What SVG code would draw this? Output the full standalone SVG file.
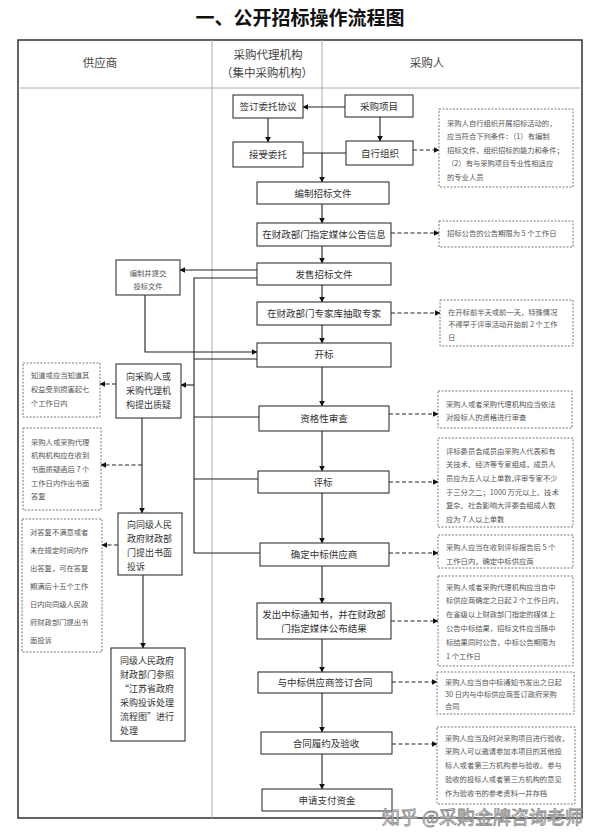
<svg xmlns="http://www.w3.org/2000/svg" width="600" height="839" viewBox="0 0 600 839">
<defs>
<marker id="ah" viewBox="0 0 10 10" refX="9" refY="5" markerWidth="6" markerHeight="6" markerUnits="userSpaceOnUse" orient="auto">
<path d="M0,0 L10,5 L0,10 z" fill="#111"/>
</marker>
<style>
.t{font-family:"Noto Sans CJK SC","Noto Sans",sans-serif;fill:#333}
.title{font-family:"Noto Sans CJK SC",sans-serif;font-size:19px;font-weight:bold;fill:#111}
.hd{font-size:11.5px;fill:#444}
.bx{font-size:9.5px}
.lb{font-size:9px}
.nt{font-size:7.3px;fill:#555}
.box{fill:#fff;stroke:#333;stroke-width:1.1}
.note{fill:#fff;stroke:#777;stroke-width:1;stroke-dasharray:2,1.5}
.ln{fill:none;stroke:#222;stroke-width:1.1}
.ar{fill:none;stroke:#222;stroke-width:1.1;marker-end:url(#ah)}
.da{fill:none;stroke:#222;stroke-width:1.1;stroke-dasharray:4,2.5;marker-end:url(#ah)}
.grid{fill:none;stroke:#9aa7b0;stroke-width:0.9}
</style>
</defs>
<rect width="600" height="839" fill="#fff"/>
<text class="title" x="300" y="25" text-anchor="middle">一、公开招标操作流程图</text>

<g id="table">
<rect x="18" y="40" width="564" height="778" fill="none" stroke="#222" stroke-width="1.4"/>
<line class="grid" x1="18" y1="88" x2="582" y2="88"/>
<line class="grid" x1="212" y1="40" x2="212" y2="818"/>
<line class="grid" x1="322" y1="40" x2="322" y2="153"/>
<text class="t hd" x="100" y="67" text-anchor="middle">供应商</text>
<text class="t hd" x="268" y="59" text-anchor="middle">采购代理机构</text>
<text class="t hd" x="267" y="77" text-anchor="middle">（集中采购机构）</text>
<text class="t hd" x="427" y="67" text-anchor="middle">采购人</text>
</g>

<g id="connectors">
<line class="ar" x1="345" y1="107" x2="303" y2="107"/>
<line class="ar" x1="268" y1="118" x2="268" y2="142"/>
<line class="ar" x1="380" y1="117" x2="380" y2="141"/>
<polyline class="ln" points="303,153 346,153"/>
<line class="ar" x1="322" y1="153" x2="322" y2="182"/>
<line class="ar" x1="322" y1="204" x2="322" y2="223"/>
<line class="ar" x1="322" y1="246" x2="322" y2="263"/>
<line class="ar" x1="322" y1="285" x2="322" y2="302"/>
<line class="ar" x1="322" y1="325" x2="322" y2="343"/>
<line class="ar" x1="322" y1="367" x2="322" y2="406"/>
<line class="ar" x1="322" y1="431" x2="322" y2="471"/>
<line class="ar" x1="322" y1="493" x2="322" y2="543"/>
<line class="ar" x1="322" y1="566" x2="322" y2="603"/>
<line class="ar" x1="322" y1="639" x2="322" y2="672"/>
<line class="ar" x1="322" y1="693" x2="322" y2="732"/>
<line class="ar" x1="322" y1="754" x2="322" y2="789"/>
<line class="ar" x1="257" y1="270" x2="180" y2="270"/>
<polyline class="ar" points="145,295 145,352 257,352"/>
<polyline class="ln" points="257,278 194,278 194,553 260,553"/>
<line class="ln" x1="194" y1="359" x2="257" y2="359"/>
<line class="ln" x1="194" y1="417" x2="259" y2="417"/>
<line class="ln" x1="194" y1="479" x2="258" y2="479"/>
<line class="ar" x1="194" y1="385" x2="181" y2="385"/>
<line class="ar" x1="142" y1="418" x2="142" y2="513"/>
<line class="ar" x1="143" y1="575" x2="143" y2="648"/>
<line class="da" x1="116" y1="384" x2="100" y2="384"/>
<line class="da" x1="142" y1="465" x2="101" y2="465"/>
<line class="da" x1="118" y1="545" x2="102" y2="545"/>
<line class="da" x1="413" y1="150" x2="439" y2="150"/>
<line class="da" x1="391" y1="233" x2="439" y2="233"/>
<line class="da" x1="391" y1="313" x2="440" y2="313"/>
<line class="da" x1="389" y1="414" x2="438" y2="414"/>
<line class="da" x1="389" y1="482" x2="438" y2="482"/>
<line class="da" x1="389" y1="553" x2="438" y2="553"/>
<line class="da" x1="391" y1="621" x2="438" y2="621"/>
<line class="da" x1="392" y1="682" x2="437" y2="682"/>
<line class="da" x1="392" y1="744" x2="437" y2="744"/>
</g>

<g id="n-qianding"><rect class="box" x="233" y="95" width="70" height="23"/><text class="t bx" x="268" y="110" text-anchor="middle">签订委托协议</text></g>
<g id="n-xiangmu"><rect class="box" x="345" y="95" width="68" height="22"/><text class="t bx" x="379" y="110" text-anchor="middle">采购项目</text></g>
<g id="n-jieshou"><rect class="box" x="233" y="142" width="70" height="25"/><text class="t bx" x="268" y="158" text-anchor="middle">接受委托</text></g>
<g id="n-zixing"><rect class="box" x="346" y="141" width="67" height="24"/><text class="t bx" x="380" y="157" text-anchor="middle">自行组织</text></g>
<g id="n-bianzhi"><rect class="box" x="257" y="182" width="132" height="22"/><text class="t bx" x="323" y="197" text-anchor="middle">编制招标文件</text></g>
<g id="n-gonggao"><rect class="box" x="257" y="223" width="134" height="23"/><text class="t bx" x="324" y="238" text-anchor="middle">在财政部门指定媒体公告信息</text></g>
<g id="n-fashou"><rect class="box" x="257" y="263" width="134" height="22"/><text class="t bx" x="324" y="278" text-anchor="middle">发售招标文件</text></g>
<g id="n-zhuanjia"><rect class="box" x="257" y="302" width="134" height="23"/><text class="t bx" x="324" y="317" text-anchor="middle">在财政部门专家库抽取专家</text></g>
<g id="n-kaibiao"><rect class="box" x="257" y="343" width="134" height="24"/><text class="t bx" x="324" y="358" text-anchor="middle">开标</text></g>
<g id="n-zige"><rect class="box" x="259" y="406" width="130" height="25"/><text class="t bx" x="324" y="422" text-anchor="middle">资格性审查</text></g>
<g id="n-pingbiao"><rect class="box" x="258" y="471" width="131" height="22"/><text class="t bx" x="323" y="486" text-anchor="middle">评标</text></g>
<g id="n-queding"><rect class="box" x="260" y="543" width="129" height="23"/><text class="t bx" x="324" y="558" text-anchor="middle">确定中标供应商</text></g>
<g id="n-tongzhi"><rect class="box" x="257" y="603" width="134" height="36"/><text class="t bx" x="324" y="618" text-anchor="middle">发出中标通知书，并在财政部</text><text class="t bx" x="324" y="632" text-anchor="middle">门指定媒体公布结果</text></g>
<g id="n-hetong"><rect class="box" x="258" y="672" width="134" height="21"/><text class="t bx" x="325" y="686" text-anchor="middle">与中标供应商签订合同</text></g>
<g id="n-yanshou"><rect class="box" x="261" y="732" width="131" height="22"/><text class="t bx" x="326" y="747" text-anchor="middle">合同履约及验收</text></g>
<g id="n-zhifu"><rect class="box" x="262" y="789" width="130" height="22"/><text class="t bx" x="327" y="804" text-anchor="middle">申请支付资金</text></g>

<g id="n-toubiao"><rect class="box" x="116" y="260" width="64" height="35"/><text class="t nt" x="148" y="276" text-anchor="middle">编制并提交</text><text class="t nt" x="148" y="289" text-anchor="middle">投标文件</text></g>
<g id="n-zhiyi"><rect class="box" x="116" y="364" width="65" height="54"/><text class="t lb" x="126" y="380">向采购人或</text><text class="t lb" x="126" y="394">采购代理机</text><text class="t lb" x="126" y="408">构提出质疑</text></g>
<g id="n-tousu"><rect class="box" x="118" y="513" width="64" height="62"/><text class="t lb" x="127" y="528">向同级人民</text><text class="t lb" x="127" y="542">政府财政部</text><text class="t lb" x="127" y="556">门提出书面</text><text class="t lb" x="127" y="570">投诉</text></g>
<g id="n-chuli"><rect class="box" x="111" y="648" width="74" height="93"/><text class="t lb" x="120" y="664">同级人民政府</text><text class="t lb" x="120" y="678">财政部门参照</text><text class="t lb" x="120" y="692">“江苏省政府</text><text class="t lb" x="120" y="706">采购投诉处理</text><text class="t lb" x="120" y="720">流程图”进行</text><text class="t lb" x="120" y="734">处理</text></g>

<g id="note-l1"><rect class="note" x="23" y="363" width="77" height="54"/><text class="t nt" x="31" y="378">知道或应当知道其</text><text class="t nt" x="31" y="392">权益受到损害起七</text><text class="t nt" x="31" y="406">个工作日内</text></g>
<g id="note-l2"><rect class="note" x="23" y="428" width="78" height="82"/><text class="t nt" x="31" y="445">采购人或采购代理</text><text class="t nt" x="31" y="458">机构机构应在收到</text><text class="t nt" x="31" y="472">书面质疑函后 7 个</text><text class="t nt" x="31" y="486">工作日内作出书面</text><text class="t nt" x="31" y="499">答复</text></g>
<g id="note-l3"><rect class="note" x="22" y="519" width="80" height="133"/><text class="t nt" x="30" y="535">对答复不满意或者</text><text class="t nt" x="30" y="553">未在规定时间内作</text><text class="t nt" x="30" y="571">出答复，可在答复</text><text class="t nt" x="30" y="589">期满后十五个工作</text><text class="t nt" x="30" y="607">日内向同级人民政</text><text class="t nt" x="30" y="625">府财政部门提出书</text><text class="t nt" x="30" y="643">面投诉</text></g>

<g id="note-r1"><rect class="note" x="439" y="109" width="134" height="78"/><text class="t nt" x="447" y="126">采购人自行组织开展招标活动的，</text><text class="t nt" x="447" y="139">应当符合下列条件：（1）有编制</text><text class="t nt" x="447" y="153">招标文件、组织招标的能力和条件；</text><text class="t nt" x="447" y="166">（2）有与采购项目专业性相适应</text><text class="t nt" x="447" y="180">的专业人员</text></g>
<g id="note-r2"><rect class="note" x="439" y="221" width="134" height="26"/><text class="t nt" x="447" y="236">招标公告的公告期限为 5 个工作日</text></g>
<g id="note-r3"><rect class="note" x="440" y="300" width="133" height="46"/><text class="t nt" x="448" y="315">在开标前半天或前一天，特殊情况</text><text class="t nt" x="448" y="327">不得早于评审活动开始前 2 个工作</text><text class="t nt" x="448" y="340">日</text></g>
<g id="note-r4"><rect class="note" x="438" y="391" width="134" height="37"/><text class="t nt" x="446" y="407">采购人或者采购代理机构应当依法</text><text class="t nt" x="446" y="420">对投标人的资格进行审查</text></g>
<g id="note-r5"><rect class="note" x="438" y="438" width="135" height="89"/><text class="t nt" x="446" y="454">评标委员会成员由采购人代表和有</text><text class="t nt" x="446" y="467">关技术、经济等专家组成，成员人</text><text class="t nt" x="446" y="481">员应为五人以上单数,评审专家不少</text><text class="t nt" x="446" y="495">于三分之二；1000 万元以上、技术</text><text class="t nt" x="446" y="508">复杂、社会影响大评委会组成人数</text><text class="t nt" x="446" y="522">应为 7 人以上单数</text></g>
<g id="note-r6"><rect class="note" x="438" y="535" width="135" height="33"/><text class="t nt" x="446" y="550">采购人应当在收到评标报告后 5 个</text><text class="t nt" x="446" y="564">工作日内，确定中标供应商</text></g>
<g id="note-r7"><rect class="note" x="438" y="576" width="135" height="90"/><text class="t nt" x="446" y="590">采购人或者采购代理机构应当自中</text><text class="t nt" x="446" y="603">标供应商确定之日起 2 个工作日内，</text><text class="t nt" x="446" y="617">在省级以上财政部门指定的媒体上</text><text class="t nt" x="446" y="631">公告中标结果，招标文件应当随中</text><text class="t nt" x="446" y="645">标结果同时公告，中标公告期限为</text><text class="t nt" x="446" y="659">1 个工作日</text></g>
<g id="note-r8"><rect class="note" x="437" y="672" width="137" height="42"/><text class="t nt" x="445" y="685">采购人应当自中标通知书发出之日起</text><text class="t nt" x="445" y="697">30 日内与中标供应商签订政府采购</text><text class="t nt" x="445" y="709">合同</text></g>
<g id="note-r9"><rect class="note" x="437" y="727" width="138" height="77"/><text class="t nt" x="445" y="741">采购人应当及时对采购项目进行验收，</text><text class="t nt" x="445" y="754">采购人可以邀请参加本项目的其他投</text><text class="t nt" x="445" y="768">标人或者第三方机构参与验收。参与</text><text class="t nt" x="445" y="782">验收的投标人或者第三方机构的意见</text><text class="t nt" x="445" y="796">作为验收书的参考资料一并存档</text></g>

<text x="583" y="824" text-anchor="end" font-family="Noto Sans CJK SC, sans-serif" font-size="18" fill="#fff" fill-opacity="0.7" stroke="#888" stroke-width="0.8">知乎 @采购金牌咨询老师</text>
</svg>
